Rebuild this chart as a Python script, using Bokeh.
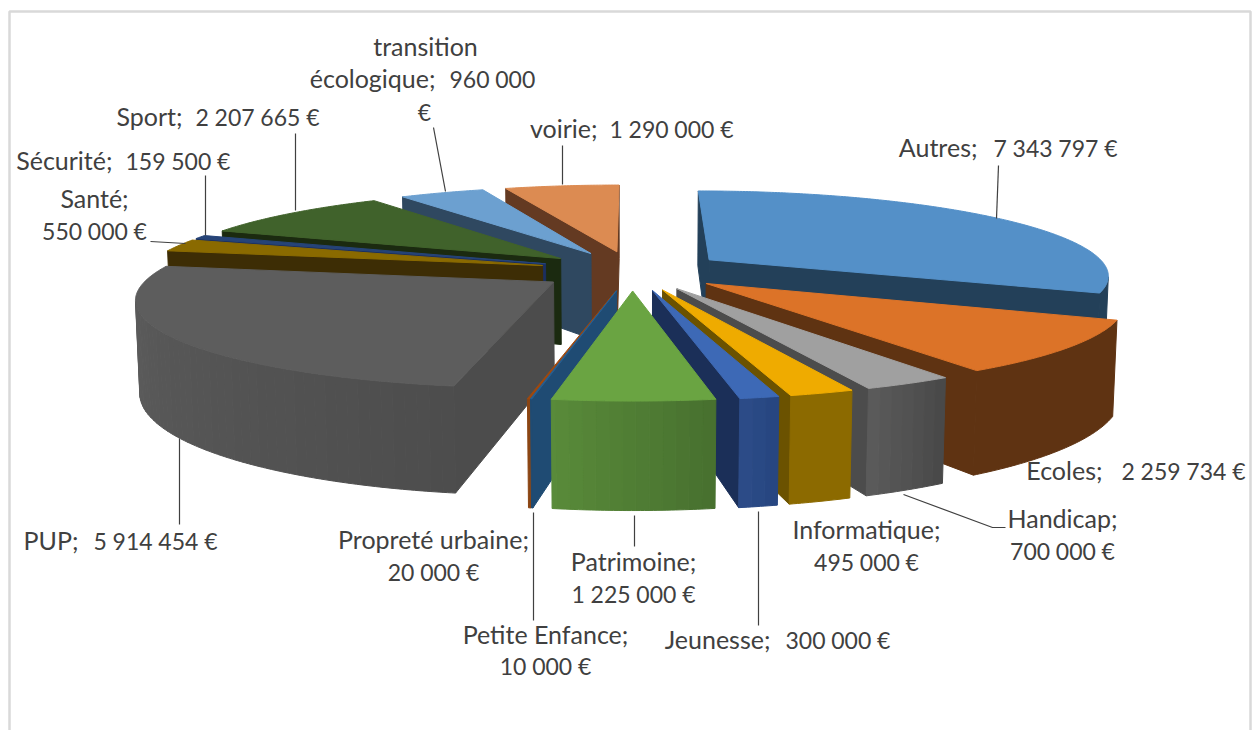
import math
from bokeh.plotting import figure
from bokeh.models import ColumnDataSource
from bokeh.core.properties import value
from bokeh.embed import file_html
from bokeh.resources import INLINE

# ---- data
names = ["Autres","Ecoles","Handicap","Informatique","Jeunesse","Patrimoine","Petite Enfance",
         "Propreté urbaine","PUP","Santé","Sécurité","Sport","transition écologique","voirie"]
amounts = [7343797,2259734,700000,495000,300000,1225000,10000,20000,5914454,550000,159500,2207665,960000,1290000]

# ---- styles
top_cols  = ["#5490C8","#DC7328","#A0A0A0","#EFAB00","#3D69B6","#6AA442","#255E91","#9E480E",
             "#5D5D5D","#8A6A00","#264478","#40622B","#6CA0D0","#DC8B52"]
wall_cols = ["#234059","#5F3312","#4C4C4C","#6B5200","#1B2F58","#3F6428","#1F4B73","#8B4513",
             "#4C4C4C","#3D2D05","#1B2F60","#1B2A10","#2F4860","#643A22"]
arc_left  = ["#234059","#5F3312","#5E5E5E","#8C6A00","#2F4F8C","#5A8C3A","#1F4B73","#8B4513",
             "#606060","#3D2D05","#1B2F60","#1B2A10","#2F4860","#643A22"]
arc_right = ["#234059","#5F3312","#484848","#8C6A00","#26457F","#47702F","#1F4B73","#8B4513",
             "#4D4D4D","#3D2D05","#1B2F60","#1B2A10","#2F4860","#643A22"]
order = [13,12,11,10,9,0,8,1,2,3,4,7,6,5]

# ---- camera
CX, CY, F, D = 632.0, 270.0, 2326.0, 5.815
TILT = math.asin(0.2094)
EXPLODE, HEIGHT = 0.235, 0.2268
cam = (0.0, -D*math.cos(TILT), D*math.sin(TILT))

def project(X, Y, Z):
    zc = D + Y*math.cos(TILT) - Z*math.sin(TILT)
    yc = Y*math.sin(TILT) + Z*math.cos(TILT)
    return CX + F*X/zc, CY - F*yc/zc

def mix(a, b, k):
    ca = [int(a[i:i+2],16) for i in (1,3,5)]
    cb = [int(b[i:i+2],16) for i in (1,3,5)]
    return "#%02X%02X%02X" % tuple(round(x+(y-x)*k) for x,y in zip(ca,cb))

def visible(p, n):
    return sum((cam[i]-p[i])*n[i] for i in range(3)) > 0

xs, ys, fills = [], [], []
def face(pts3, col):
    pr = [project(*q) for q in pts3]
    xs.append([q[0] for q in pr]); ys.append([q[1] for q in pr]); fills.append(col)

total = sum(amounts)
spans, acc = [], 0.0
for v in amounts:
    spans.append((acc/total*360, (acc+v)/total*360)); acc += v

for i in order:
    a0, a1 = spans[i]
    band = 360.0 if arc_left[i] == arc_right[i] else 1.5
    mid = math.radians((a0+a1)/2)
    ax, ay = EXPLODE*math.sin(mid), EXPLODE*math.cos(mid)
    n = max(2, int((a1-a0)*2)+1)
    angs = [a0+(a1-a0)*k/(n-1) for k in range(n)]
    rim = [(ax+math.sin(math.radians(u)), ay+math.cos(math.radians(u))) for u in angs]
    # radial walls
    for rp, ang in ((rim[0], a0-90), (rim[-1], a1+90)):
        nr = (math.sin(math.radians(ang)), math.cos(math.radians(ang)), 0.0)
        if visible((ax,ay,0.0), nr):
            face([(ax,ay,0),(rp[0],rp[1],0),(rp[0],rp[1],-HEIGHT),(ax,ay,-HEIGHT)], wall_cols[i])
    # rim wall, in bands
    bands = {}
    for k in range(n-1):
        um = math.radians((angs[k]+angs[k+1])/2)
        if visible((rim[k][0],rim[k][1],0.0),(math.sin(um),math.cos(um),0.0)):
            bands.setdefault(int((angs[k]-a0)//band), []).append(k)
    nb = max(1, int((a1-a0)//band)+1)
    for b, ks in sorted(bands.items()):
        col = mix(arc_right[i], arc_left[i], (b+0.5)/nb)
        idx = ks+[ks[-1]+1]
        face([(rim[q][0],rim[q][1],0) for q in idx]+[(rim[q][0],rim[q][1],-HEIGHT) for q in reversed(idx)], col)
    # top
    face([(ax,ay,0)]+[(r[0],r[1],0) for r in rim], top_cols[i])

W, H = 1258, 730
p = figure(width=W, height=H, x_range=(0, W), y_range=(H, 0), output_backend="svg",
           toolbar_location=None, min_border=0, outline_line_color=None, background_fill_color="white")
p.axis.visible = False
p.grid.visible = False

# frame
p.line([9,9,1250,1250],[730,11,11,730], line_color="#D9D9D9", line_width=2.5)

src = ColumnDataSource(dict(xs=xs, ys=ys, fill=fills))
p.patches("xs","ys",source=src, fill_color="fill", line_color="fill", line_width=1.0)

# leader lines
leaders = [([295,295],[133,210]),([205,205],[175,235]),([150,185],[241,243]),([433,445],[127,191]),
           ([562,562],[145,184]),([998,996],[165,218]),([903,992,1005],[494,527,527]),
           ([758,758],[511,625]),([634,634],[515,546]),([533,533],[512,620]),([179,179],[438,524])]
for lx, ly in leaders:
    p.line(lx, ly, line_color="#404040", line_width=1.2)

T = "\u202f"
def fmt(v):
    return T.join(f"{v:,}".split(",")) + T + "€"

# names at 25px, amounts at 23px (Lato's digits are wider than the original's)
name_x, name_y, name_t, name_a = [], [], [], []
amt_x, amt_y, amt_t, amt_a = [], [], [], []
def nm(t, x, y, a="center"):
    name_t.append(t); name_x.append(x); name_y.append(y); name_a.append(a)
def am(t, x, y, a="center"):
    amt_t.append(t); amt_x.append(x); amt_y.append(y); amt_a.append(a)

# same-line labels: name ends at x1, amount starts at x2
for idx, label, x1, x2, y in [(0,"Autres;",977,993,148),(13,"voirie;",597,609,129),
                              (11,"Sport;",182,195,117),(10,"Sécurité;",112,125,161),
                              (8,"PUP;",78,93,541),(4,"Jeunesse;",770,785,640),
                              (1,"Ecoles;",1102,1121,471)]:
    nm(label, x1, y, "right"); am(fmt(amounts[idx]), x2, y, "left")
# two-line labels
for idx, label, x, y1, y2 in [(9,"Santé;",94,199,231),(7,"Propreté urbaine;",433,540,572),
                              (5,"Patrimoine;",633,562,594),(6,"Petite Enfance;",545,635,666),
                              (3,"Informatique;",866,530,562),(2,"Handicap;",1062,519,551)]:
    nm(label, x, y1); am(fmt(amounts[idx]), x, y2)
# the wrapped transition label
nm("transition", 425, 47)
nm("écologique;", 435, 79, "right"); am(T.join(f"{amounts[12]:,}".split(",")), 449, 79, "left")
am("€", 424, 112)

for xx, yy, tt, aa, size, dy in ((name_x,name_y,name_t,name_a,"25px",-2),(amt_x,amt_y,amt_t,amt_a,"23px",-1)):
    srcT = ColumnDataSource(dict(x=xx, y=[v+dy for v in yy], t=tt, a=aa))
    p.text("x","y",text="t",source=srcT,text_font=value("Lato"),text_font_size=size,text_color="#404040",
           text_align="a",text_baseline="middle")

open("out.html","w").write(file_html(p, INLINE))
